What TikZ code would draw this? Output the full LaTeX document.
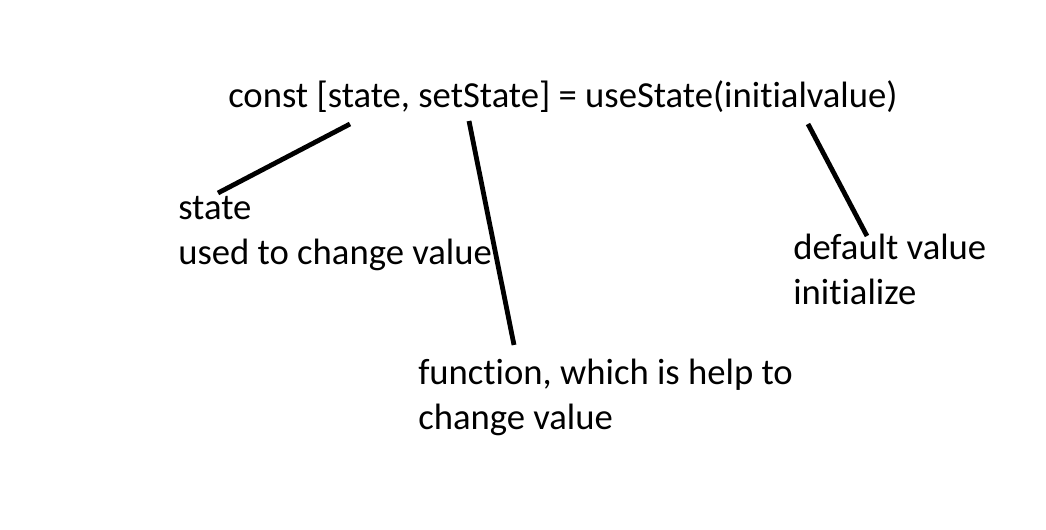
\documentclass[tikz,border=0pt]{standalone}
\usepackage{fontspec}
\setmainfont{Carlito}[Ligatures=NoCommon]
\usetikzlibrary{calc}
\tikzset{
  codetext/.style={anchor=base west, inner sep=0pt, font=\fontsize{27.5}{33.75}\selectfont},
  notetext/.style={codetext, align=left},
  pointer/.style={line width=3.6pt},
}

\begin{document}
\begin{tikzpicture}[x=0.75pt,y=-0.75pt]
\useasboundingbox (0,0) rectangle (1046,530);

% Code line
\node[codetext] (code) at (228,108) {const [state, setState] = useState(initialvalue)};

% Notes (base = last line)
\node[notetext] (notestate) at (178,265) {state\\used to change value};
\node[notetext] (notefunc) at (418,430) {function, which is help to\\change value};
\node[notetext] (notedefault) at (793,305) {default value\\initialize};

% Pointers
\draw[pointer] ($(code.base west)+(122,16)$) -- ($(notestate.base west)+(40,-72)$);
\draw[pointer] ($(code.base west)+(241,13)$) -- ($(notefunc.base west)+(96,-85)$);
\draw[pointer] ($(code.base west)+(580,16)$) -- ($(notedefault.base west)+(74,-69)$);

\end{tikzpicture}
\end{document}
